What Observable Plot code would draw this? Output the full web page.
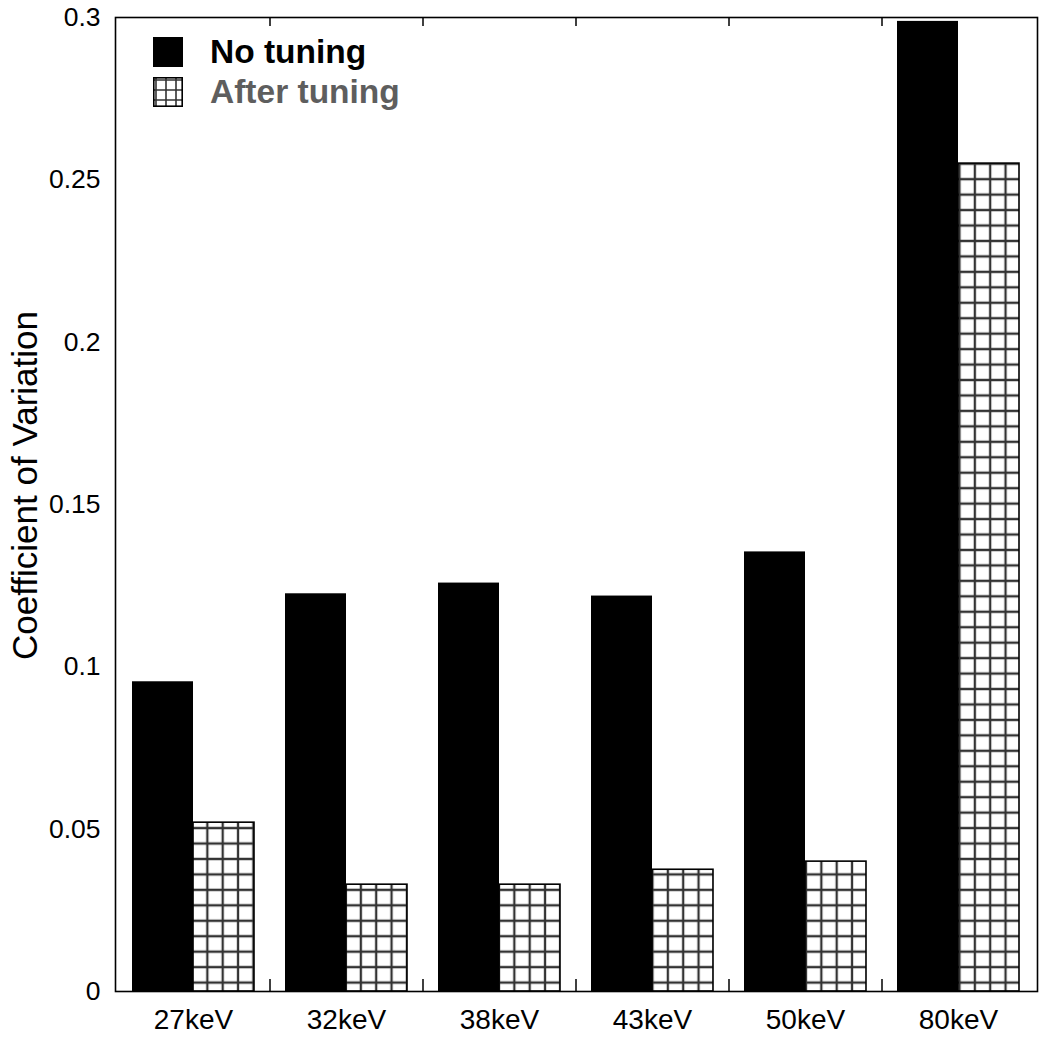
<!DOCTYPE html>
<html>
<head>
<meta charset="utf-8">
<script src="https://cdn.jsdelivr.net/npm/d3@7"></script>
<script src="https://cdn.jsdelivr.net/npm/@observablehq/plot@0.6"></script>
<style>
  html, body { margin: 0; padding: 0; background: #fff; }
  #wrap { position: relative; width: 1048px; height: 1050px; font-family: "Liberation Sans", Arial, sans-serif; }
  .leg-row { position: absolute; left: 153px; height: 30px; display: flex; align-items: center; }
  .leg-text { margin-left: 27px; font-size: 33.5px; font-weight: bold; white-space: nowrap; }
</style>
</head>
<body>
<svg width="0" height="0" style="position:absolute">
  <defs>
    <pattern id="grid" patternUnits="userSpaceOnUse" width="15.35" height="15.45" x="0.12" y="1.5">
      <rect width="15.35" height="15.45" fill="#fff"></rect>
      <path d="M7.675 0V15.45M0 7.725H15.35" stroke="#333" stroke-width="2.3" fill="none"></path>
    </pattern>
    <pattern id="gridLegend" patternUnits="userSpaceOnUse" width="10" height="10" x="0" y="0">
      <rect width="10" height="10" fill="#fff"></rect>
      <path d="M3 0V10M0 3H10" stroke="#333" stroke-width="1.6" fill="none"></path>
    </pattern>
  </defs>
</svg>
<div id="wrap"></div>
<script>
const categories = ["27keV", "32keV", "38keV", "43keV", "50keV", "80keV"];
const noTuning = [0.0954, 0.1225, 0.1258, 0.1218, 0.1354, 0.2988];
const afterTuning = [0.052, 0.0329, 0.0329, 0.0375, 0.040, 0.255];
const seriesNames = ["No tuning", "After tuning"];
const yTicks = [0, 0.05, 0.1, 0.15, 0.2, 0.25, 0.3];
const yTickLabels = ["0", "0.05", "0.1", "0.15", "0.2", "0.25", "0.3"];
const yLabel = "Coefficient of Variation";

const data = categories.flatMap((c, i) => [
  {cat: c, series: seriesNames[0], value: noTuning[i]},
  {cat: c, series: seriesNames[1], value: afterTuning[i]}
]);
const dNo = data.filter(d => d.series === seriesNames[0]);
const dAfter = data.filter(d => d.series === seriesNames[1]);

const W = 1048, H = 1050, mL = 115, mR = 11, mT = 17, mB = 59;
const xOpts = {domain: categories, paddingInner: 0.2, paddingOuter: 0.1, align: 0.5};
const yOpts = {domain: [0, 0.3]};
const base = {width: W, height: H, marginLeft: mL, marginRight: mR, marginTop: mT, marginBottom: mB};

const probe = Plot.plot({...base, x: xOpts, y: yOpts, marks: [Plot.barY(data, {x: "cat", y: "value"})]});
const xs = probe.scale("x");
const bw = xs.bandwidth;
const step = xs.step;
const plotH = H - mT - mB;

const chart = Plot.plot({
  ...base,
  style: {fontFamily: "'Liberation Sans', Arial, sans-serif", fontSize: "26px", color: "#000", background: "#fff"},
  x: {...xOpts, label: null},
  y: {...yOpts, label: null},
  marks: [
    Plot.barY(dNo, {x: "cat", y: "value", fill: "#000", insetRight: bw / 2, insetLeft: 0}),
    Plot.barY(dAfter, {x: "cat", y: "value", fill: "url(#grid)", stroke: "#000", strokeWidth: 1.6, insetLeft: bw / 2, insetRight: 0}),
    Plot.ruleX(categories.slice(0, -1), {x: d => d, dx: step / 2, insetTop: plotH - 12, stroke: "#000", strokeWidth: 1.5}),
    Plot.ruleX(categories.slice(0, -1), {x: d => d, dx: step / 2, insetBottom: plotH - 9, stroke: "#000", strokeWidth: 1.5}),
    Plot.frame({stroke: "#000", strokeWidth: 1.6}),
    Plot.axisX({tickSize: 0, tickPadding: 18, label: null, fontSize: 28}),
    Plot.axisY({ticks: yTicks, tickFormat: d => yTickLabels[yTicks.indexOf(d)], tickSize: 0, tickPadding: 15, label: null, fontSize: 26.5}),
    Plot.text([yLabel], {text: d => d, frameAnchor: "left", textAnchor: "middle", rotate: -90, dx: -90, dy: -19, fontSize: 35, fill: "#000"})
  ]
});

const wrap = document.getElementById("wrap");
wrap.appendChild(chart);

// Legend
const rows = [
  {name: seriesNames[0], top: 37, swatch: '<svg width="30" height="30"><rect width="30" height="30" fill="#000"></rect></svg>', color: "#000"},
  {name: seriesNames[1], top: 77, swatch: '<svg width="30" height="30"><rect x="0.8" y="0.8" width="28.4" height="28.4" fill="url(#gridLegend)" stroke="#000" stroke-width="1.6"></rect></svg>', color: "#5e5e5e"}
];
for (const r of rows) {
  const div = document.createElement("div");
  div.className = "leg-row";
  div.style.top = r.top + "px";
  div.innerHTML = r.swatch + `<span class="leg-text" style="color:${r.color}">${r.name}</span>`;
  wrap.appendChild(div);
}
</script>
</body>
</html>
